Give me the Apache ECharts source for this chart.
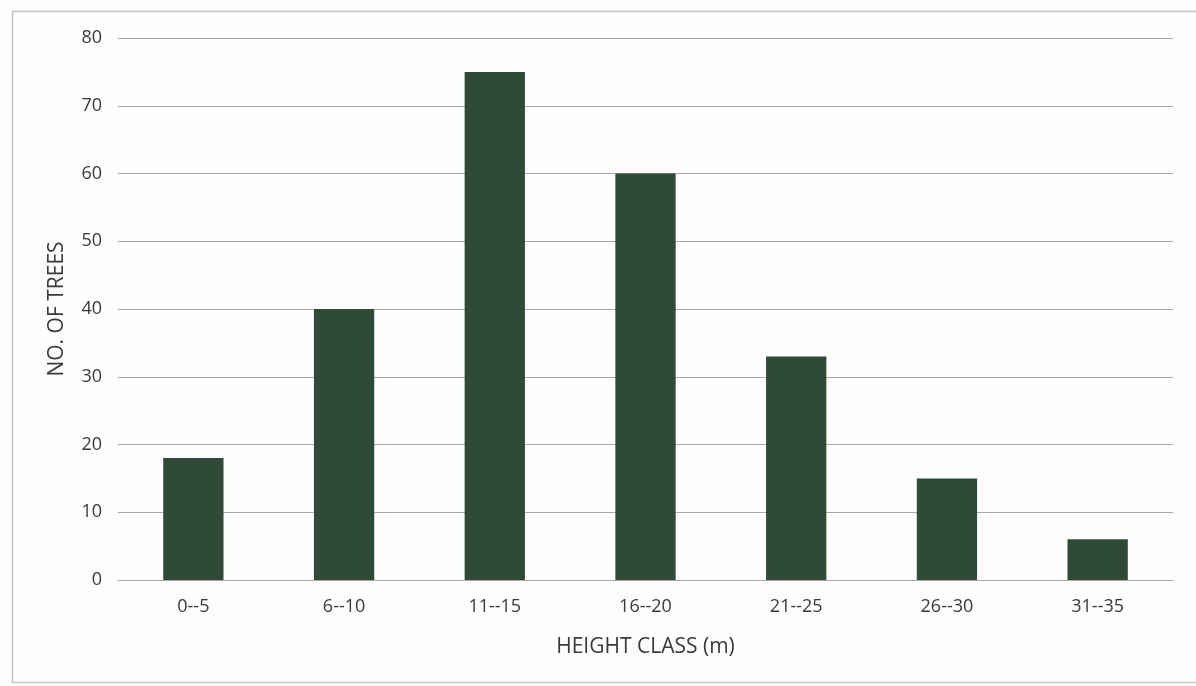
<!DOCTYPE html>
<html>
<head>
<meta charset="utf-8">
<script src="https://cdn.jsdelivr.net/npm/echarts@6/dist/echarts.min.js"></script>
<style>
  html, body { margin: 0; padding: 0; background: #fdfdfd; }
  #chart { width: 1196px; height: 686px; }
</style>
</head>
<body>
<div id="chart"></div>
<script>
// height classes and tree counts
const heightClasses = ['0--5', '6--10', '11--15', '16--20', '21--25', '26--30', '31--35'];
const treeCounts = [18, 40, 75, 60, 33, 15, 6];

const FONT = '"Open Sans", Lato, sans-serif';
const TEXT = '#3a3a3a';

const chart = echarts.init(document.getElementById('chart'));

chart.setOption({
  backgroundColor: '#fdfdfd',
  animation: false,
  graphic: [{
    type: 'rect',
    shape: { x: 12.5, y: 11.5, width: 1200, height: 671 },
    style: { fill: 'none', stroke: '#c4c4c4', lineWidth: 1.5 }
  }],
  grid: { left: 118, right: 23, top: 38, bottom: 106 },
  xAxis: {
    type: 'category',
    data: heightClasses,
    name: 'HEIGHT CLASS (m)',
    nameLocation: 'middle',
    nameGap: 57,
    nameTextStyle: { color: TEXT, fontFamily: FONT, fontSize: 21 },
    axisLine: { lineStyle: { color: '#a8a8a8', width: 1.2 } },
    axisTick: { show: false },
    axisLabel: { color: TEXT, fontFamily: FONT, fontSize: 18, margin: 18 }
  },
  yAxis: {
    type: 'value',
    min: 0,
    max: 80,
    interval: 10,
    name: 'NO. OF TREES',
    nameLocation: 'middle',
    nameGap: 50,
    nameTextStyle: { color: TEXT, fontFamily: FONT, fontSize: 21 },
    axisLine: { show: false },
    axisTick: { show: false },
    axisLabel: { color: TEXT, fontFamily: FONT, fontSize: 18, margin: 16 },
    splitLine: { lineStyle: { color: '#a8a8a8', width: 1.2 } }
  },
  series: [{
    type: 'bar',
    data: treeCounts,
    barWidth: '40%',
    itemStyle: { color: '#2f4a37' }
  }]
});
</script>
</body>
</html>
